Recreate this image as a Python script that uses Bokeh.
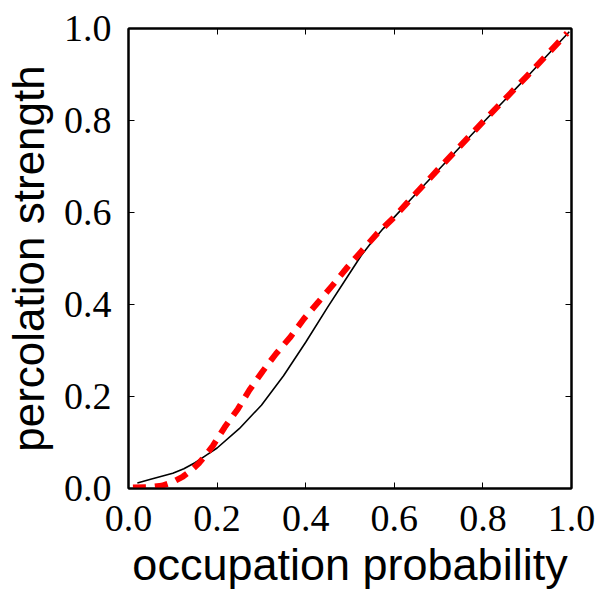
from bokeh.plotting import figure
from bokeh.models import LinearAxis, FixedTicker, CustomJSTickFormatter, Range1d
from bokeh.embed import file_html
from bokeh.resources import INLINE

# data
black_x = [0.02, 0.05, 0.1, 0.125, 0.15, 0.175, 0.2, 0.25, 0.3, 0.35, 0.4, 0.45, 0.5,
           0.525, 0.55, 0.575, 0.6, 0.65, 0.7, 0.8, 0.9, 0.995]
black_y = [0.012, 0.02, 0.033, 0.043, 0.056, 0.072, 0.088, 0.13, 0.181, 0.245, 0.318, 0.395, 0.469,
           0.506, 0.537, 0.565, 0.59, 0.642, 0.693, 0.795, 0.895, 0.993]
red_x = [0.01, 0.05, 0.075, 0.1, 0.123, 0.14, 0.16, 0.19, 0.217, 0.247, 0.273, 0.303, 0.333,
         0.366, 0.396, 0.43, 0.46, 0.494, 0.527, 0.561, 0.6, 0.63, 0.7, 0.8, 0.9, 0.99]
red_y = [0.002, 0.003, 0.006, 0.014, 0.026, 0.038, 0.056, 0.092, 0.133, 0.173, 0.214, 0.255, 0.293,
         0.33, 0.369, 0.407, 0.441, 0.481, 0.517, 0.554, 0.59, 0.622, 0.695, 0.797, 0.897, 0.99]
ticks = [0.0, 0.2, 0.4, 0.6, 0.8, 1.0]
tick_labels = ["0.0", "0.2", "0.4", "0.6", "0.8", "1.0"]
x_label = "occupation probability"
y_label = "percolation strength"

p = figure(width=596, height=592, output_backend="svg", toolbar_location=None,
           x_range=Range1d(0, 1), y_range=Range1d(0, 1),
           min_border_left=126, min_border_right=25, min_border_top=28, min_border_bottom=104,
           x_axis_label=x_label, y_axis_label=y_label)
p.grid.visible = False
p.outline_line_color = "black"
p.outline_line_width = 2
p.background_fill_color = "white"
p.border_fill_color = "white"

p.line(black_x, black_y, line_color="black", line_width=1.6, line_join="round")
p.line(red_x, red_y, line_color="#ff0000", line_width=6, line_dash="13 9", line_cap="butt")

def style(ax, show_labels):
    ax.ticker = FixedTicker(ticks=ticks)
    ax.major_tick_in = 6
    ax.major_tick_out = 0
    ax.minor_tick_line_color = None
    ax.major_tick_line_color = "black"
    ax.major_tick_line_width = 1
    ax.axis_line_color = "black"
    ax.axis_line_width = 2
    if show_labels:
        ax.formatter = CustomJSTickFormatter(args=dict(labels=tick_labels),
                                             code="return labels[index]")
        ax.major_label_text_font = "Liberation Serif"
        ax.major_label_text_font_size = "38px"
        ax.major_label_text_color = "black"
        ax.axis_label_text_font = "Liberation Sans"
        ax.axis_label_text_font_style = "normal"
        ax.axis_label_text_color = "black"
    else:
        ax.formatter = CustomJSTickFormatter(code="return ''")
        ax.major_label_standoff = 0
        ax.major_label_text_font_size = "1px"

for ax in p.xaxis:
    style(ax, True)
    ax.axis_label_text_font_size = "45px"
    ax.major_label_standoff = 17
    ax.axis_label_standoff = 5
for ax in p.yaxis:
    style(ax, True)
    ax.axis_label_text_font_size = "44px"
    ax.major_label_standoff = 17
    ax.axis_label_standoff = 8

top = LinearAxis()
style(top, False)
p.add_layout(top, "above")
right = LinearAxis()
style(right, False)
p.add_layout(right, "right")

open("out.html", "w").write(file_html(p, INLINE))
